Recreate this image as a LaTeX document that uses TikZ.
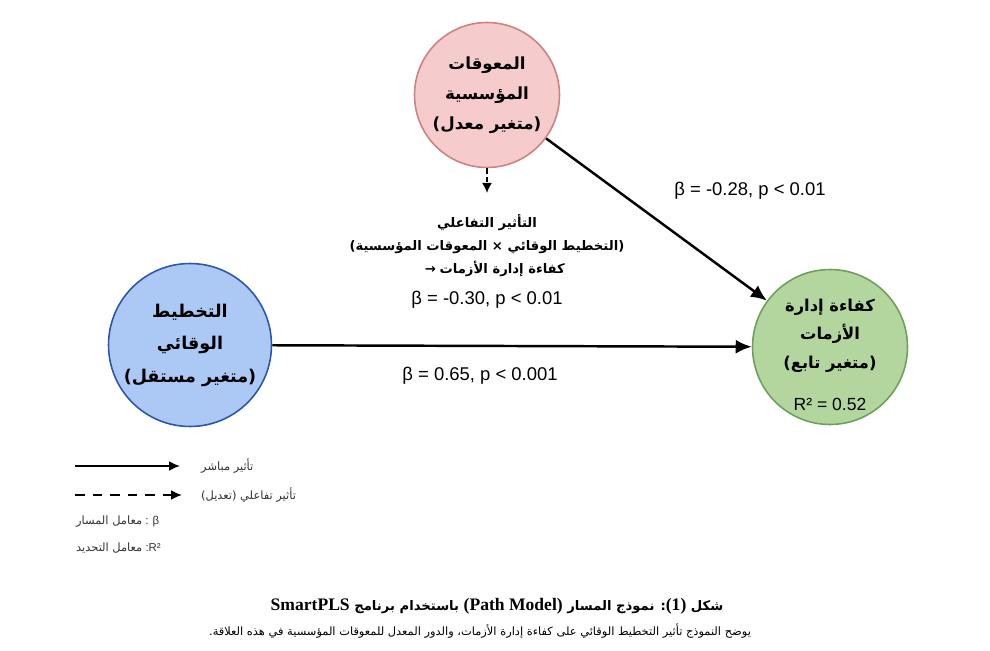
\documentclass[tikz,border=0pt]{standalone}
\usepackage{fontspec}
\setmainfont{Liberation Sans}
\newfontfamily\arabicfont[Script=Arabic]{DejaVu Sans}
\newfontfamily\symfont{DejaVu Sans}
\newfontfamily\capfont{Liberation Serif}
\TeXXeTstate=1
\usetikzlibrary{arrows.meta,positioning}
\definecolor{planfill}{RGB}{172,201,245}
\definecolor{plandraw}{RGB}{45,85,170}
\definecolor{obstfill}{RGB}{246,203,203}
\definecolor{obstdraw}{RGB}{205,130,130}
\definecolor{efffill}{RGB}{178,214,158}
\definecolor{effdraw}{RGB}{110,160,90}
\newcommand{\ar}[1]{{\arabicfont\beginR #1\endR}}

\begin{document}
\begin{tikzpicture}[x=0.02cm, y=-0.02cm,
  var/.style={circle, line width=0.9pt, align=center, inner sep=0pt},
  arr/.style={line width=1.4pt, -{Latex[length=0.32cm,width=0.28cm]}},
  coef/.style={font=\fontsize{10.5}{12}\selectfont},
  legtext/.style={anchor=west, font=\fontsize{6.5}{8}\selectfont, text=black!80}]
  \useasboundingbox[fill=white] (0,0) rectangle (990,651);
  % variables
  \node[var, draw=obstdraw, fill=obstfill, minimum size=2.9cm,
    font=\bfseries\fontsize{9.5}{17}\selectfont] (obst) at (487,95)
    {\ar{المعوقات}\\\ar{المؤسسية}\\\ar{(متغير معدل)}};
  \node[var, draw=plandraw, fill=planfill, minimum size=3.26cm,
    font=\bfseries\fontsize{10}{18.5}\selectfont] (plan) at (190,345)
    {\ar{التخطيط}\\\ar{الوقائي}\\\ar{(متغير مستقل)}};
  \node[var, draw=effdraw, fill=efffill, minimum size=3.1cm] (eff) at (830,347) {};
  \node[align=center, font=\bfseries\fontsize{9.3}{16.2}\selectfont] (efftext) at ([yshift=-4.5pt]eff.center)
    {\ar{كفاءة إدارة}\\\ar{الأزمات}\\\ar{(متغير تابع)}\\[8pt]{\mdseries\fontsize{10}{12}\selectfont R² = 0.52}};
  % paths
  \draw[arr] (plan) -- (eff);
  \draw[arr] (obst) -- (eff);
  \coordinate (tip) at (487,193);
  \draw[line width=1pt, dash pattern=on 3pt off 2pt, -{Latex[length=0.2cm,width=0.2cm]}] (obst) -- (tip);
  \node[align=center, font=\bfseries\fontsize{7.5}{13.3}\selectfont, below=8.5pt of tip] (inter)
    {\ar{التأثير التفاعلي}\\\ar{(التخطيط الوقائي × المعوقات المؤسسية)}\\
     \hspace*{1.2em}{\symfont →}\ \ar{كفاءة إدارة الأزمات}\\[4pt]
     {\mdseries\fontsize{10.5}{12}\selectfont β = -0.30, p < 0.01}};
  \node[coef] (b1) at (750,191) {β = -0.28, p < 0.01};
  \node[coef] (b2) at (480,376) {β = 0.65, p < 0.001};
  % legend
  \coordinate (l1a) at (75,466);
  \coordinate (l1b) at (180,466);
  \coordinate (l2a) at (75,495);
  \coordinate (l2b) at (182,495);
  \draw[line width=1.1pt, -{Latex[length=0.22cm,width=0.2cm]}] (l1a) -- (l1b);
  \draw[line width=1.1pt, dash pattern=on 5.5pt off 4.5pt, -{Latex[length=0.22cm,width=0.2cm]}] (l2a) -- (l2b);
  \node[legtext] (t1) at (195,466) {\ar{تأثير مباشر}};
  \node[legtext] (t2) at (195,495) {\ar{تأثير تفاعلي (تعديل)}};
  \node[legtext] (t3) at (70,522) {\ar{معامل المسار} : β};
  \node[legtext] (t4) at (70,548) {\ar{معامل التحديد} :R²};
  % caption
  \node[font=\bfseries\fontsize{7.5}{12}\selectfont] (cap) at (497,606)
    {{\arabicfont\beginR شكل {\capfont\fontsize{10}{12}\selectfont(1)}: نموذج المسار \beginL{\capfont\fontsize{10}{12}\selectfont (Path Model)}\endL{} باستخدام برنامج \beginL{\capfont\fontsize{10}{12}\selectfont SmartPLS}\endL\endR}};
  \node[font=\fontsize{6.5}{10}\selectfont] (sub) at (480,631)
    {\ar{يوضح النموذج تأثير التخطيط الوقائي على كفاءة إدارة الأزمات، والدور المعدل للمعوقات المؤسسية في هذه العلاقة.}};
\end{tikzpicture}
\end{document}
